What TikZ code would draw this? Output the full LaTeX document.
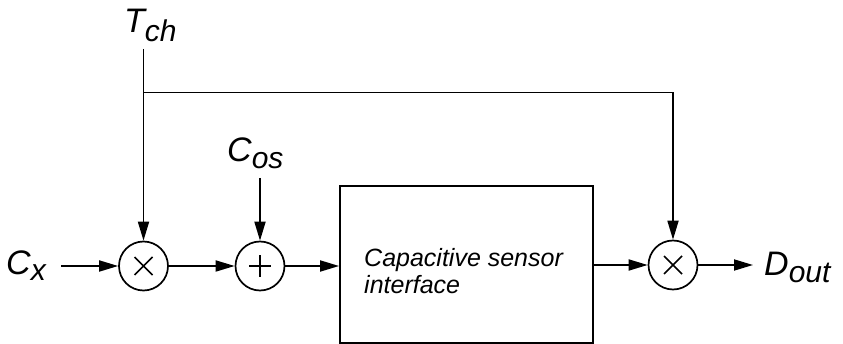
\documentclass[tikz,border=0pt]{standalone}
\usepackage{fontspec}
\setmainfont{Liberation Sans}
\usetikzlibrary{arrows.meta}
% signal name with a large, slightly lowered subscript
\newcommand\signame[3]{{\fontsize{34}{34}\selectfont\itshape #1\raisebox{-#3pt}{\fontsize{30}{30}\selectfont #2}}}
\begin{document}
\begin{tikzpicture}[x=1pt,y=1pt,
  wire/.style={line width=1.8pt},
  sig/.style={wire,-{Triangle[length=19pt,width=11pt]}},
  opnode/.style={circle,draw,line width=1.7pt,minimum size=49pt,inner sep=0pt},
  lbl/.style={inner sep=0pt,anchor=base west},
  block/.style={draw,line width=1.8pt,minimum width=253pt,minimum height=157pt,inner sep=0pt}]
\useasboundingbox (0,0) rectangle (843,-344);

% operators
\node[opnode] (m1) at (143.5,-266) {};
\node[opnode] (add) at (260,-266) {};
\node[opnode] (m2) at (673,-265) {};
\draw[line width=1.6pt] ([shift={(-9,-9)}]m1.center) -- ([shift={(9,9)}]m1.center)
                        ([shift={(-9,9)}]m1.center) -- ([shift={(9,-9)}]m1.center);
\draw[line width=1.6pt] ([shift={(-9,-9)}]m2.center) -- ([shift={(9,9)}]m2.center)
                        ([shift={(-9,9)}]m2.center) -- ([shift={(9,-9)}]m2.center);
\draw[line width=1.6pt] ([xshift=-11]add.center) -- ([xshift=11]add.center)
                        ([yshift=-11]add.center) -- ([yshift=11]add.center);

% sensor interface block
\node[block] (csi) at (466.5,-264.5) {};
\node[lbl,align=left,font=\fontsize{25}{27}\selectfont\itshape] (csitxt) at (364,-294)
  {Capacitive sensor\\interface};

% signal labels
\node[lbl] (tch) at (124,-33) {\signame{T}{ch}{9}};
\node[lbl] (cx) at (6,-275) {\signame{C}{x}{6}};
\node[lbl] (cos) at (227,-162) {\signame{C}{os}{7}};
\node[lbl] (dout) at (764,-276) {\signame{D}{out}{7}};

% wire ends
\coordinate (tchend) at (143.5,-49);
\coordinate (split) at (143.5,-92.5);
\coordinate (corner) at (673,-92.5);
\coordinate (cxend) at (61,-266);
\coordinate (cosend) at (260,-178);
\coordinate (doutend) at (753,-265);

% connections
\draw[sig] (tchend) -- (m1);
\draw[sig] (split) -- (corner) -- (m2);
\draw[sig] (cxend) -- (m1);
\draw[sig] (cosend) -- (add);
\draw[sig] (m1) -- (add);
\draw[sig] (add) -- (add -| csi.west);
\draw[sig] (csi.east |- m2) -- (m2);
\draw[sig] (m2) -- (doutend);
\end{tikzpicture}
\end{document}
